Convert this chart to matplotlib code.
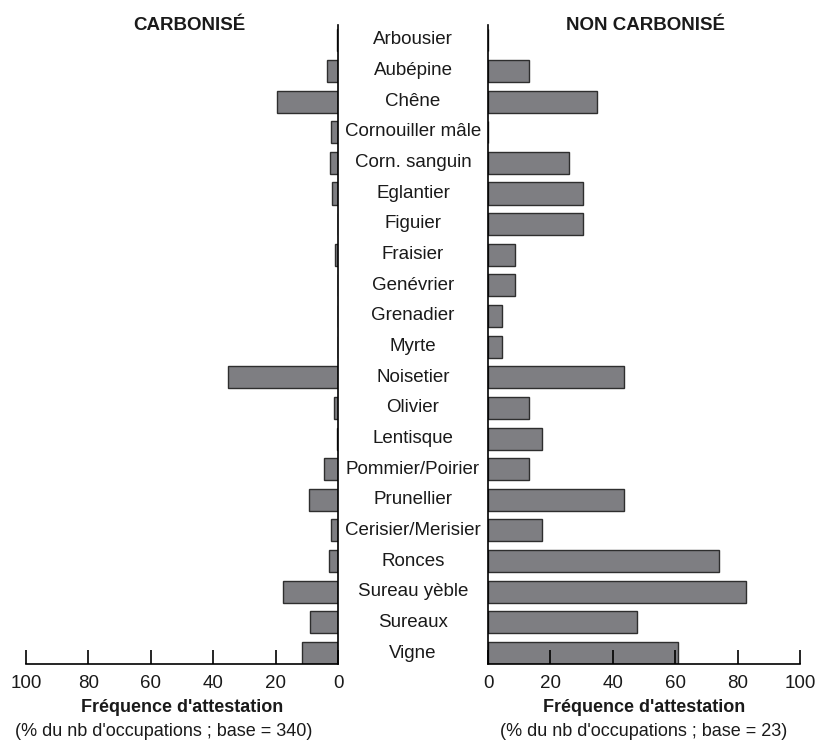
import matplotlib
matplotlib.use("Agg")
import matplotlib.pyplot as plt
import numpy as np

plt.rcParams['font.family'] = ['Liberation Sans', 'DejaVu Sans']
plt.rcParams['text.color'] = '#1a1a1a'
plt.rcParams['xtick.labelcolor'] = '#1a1a1a'

categories = ["Arbousier", "Aubépine", "Chêne", "Cornouiller mâle", "Corn. sanguin",
              "Eglantier", "Figuier", "Fraisier", "Genévrier", "Grenadier", "Myrte",
              "Noisetier", "Olivier", "Lentisque", "Pommier/Poirier", "Prunellier",
              "Cerisier/Merisier", "Ronces", "Sureau yèble", "Sureaux", "Vigne"]
carbonise = [0.3, 3.5, 19.7, 2.2, 2.6, 1.9, 0, 0.9, 0, 0, 0,
             35.3, 1.4, 0.3, 4.6, 9.3, 2.2, 2.9, 17.6, 9.0, 11.6]
non_carbonise = [0, 13.0, 34.8, 0, 26.1, 30.4, 30.4, 8.7, 8.7, 4.35, 4.35,
                 43.5, 13.0, 17.4, 13.0, 43.5, 17.4, 73.9, 82.6, 47.8, 60.9]
ticks = [0, 20, 40, 60, 80, 100]

W, H = 817, 742
fig = plt.figure(figsize=(W / 100, H / 100), dpi=100)

def fx(px):
    return px / W

def fy(py):
    return 1 - py / H

ax_top, ax_bot = 25, 664
axL = fig.add_axes([fx(26), fy(ax_bot), fx(338) - fx(26), (ax_bot - ax_top) / H])
axR = fig.add_axes([fx(488), fy(ax_bot), fx(800) - fx(488), (ax_bot - ax_top) / H])

y = np.arange(len(categories))
face = '#7e7e82'
edge = '#2e2e2e'

axL.barh(y, carbonise, height=0.72, color=face, edgecolor=edge, linewidth=1.0)
axR.barh(y, non_carbonise, height=0.72, color=face, edgecolor=edge, linewidth=1.0)

for ax in (axL, axR):
    ax.set_ylim(20.36, -0.5)
    ax.set_xlim(0, 100)
    ax.set_xticks(ticks)
    ax.set_yticks([])
    ax.spines['top'].set_visible(False)
    ax.tick_params(axis='x', direction='in', length=10, width=1.2, labelsize=13.5, pad=8, color='black')
    ax.spines['bottom'].set_linewidth(1.2)

axL.invert_xaxis()
axL.spines['left'].set_visible(False)
axL.spines['right'].set_linewidth(1.2)
axR.spines['right'].set_visible(False)
axR.spines['left'].set_linewidth(1.2)

# category labels in the middle
for i, c in enumerate(categories):
    yy = 40 + i * (653 - 40) / 20
    fig.text(fx(413), fy(yy), c, ha='center', va='center', fontsize=13.5)

fig.text(fx(189), fy(25), "CARBONISÉ", ha='center', va='center', fontsize=13.5, fontweight='bold')
fig.text(fx(645), fy(25), "NON CARBONISÉ", ha='center', va='center', fontsize=13.5, fontweight='bold')

fig.text(fx(182), fy(708), "Fréquence d'attestation", ha='center', va='center', fontsize=13, fontweight='bold')
fig.text(fx(164), fy(731), "(% du nb d'occupations ; base = 340)", ha='center', va='center', fontsize=13)
fig.text(fx(644), fy(708), "Fréquence d'attestation", ha='center', va='center', fontsize=13, fontweight='bold')
fig.text(fx(644), fy(731), "(% du nb d'occupations ; base = 23)", ha='center', va='center', fontsize=13)

fig.savefig("out.png", dpi=100)
